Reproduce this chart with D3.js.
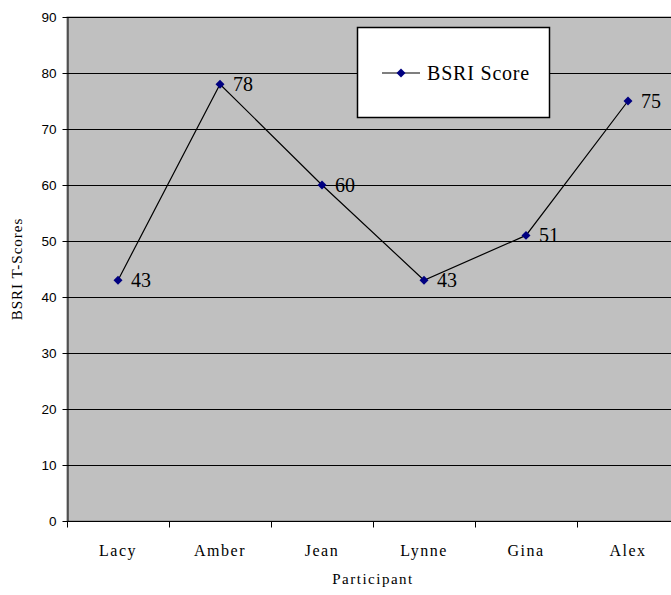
<!DOCTYPE html>
<html><head><meta charset="utf-8">
<script src="https://cdn.jsdelivr.net/npm/d3@7"></script>
<style>body{margin:0;background:#fff}svg{display:block}</style>
</head><body>
<svg id="c" width="671" height="595"></svg>
<script>
const categories = ["Lacy","Amber","Jean","Lynne","Gina","Alex"];
const scores = [43,78,60,43,51,75];
const yTicks = [0,10,20,30,40,50,60,70,80,90];
const seriesName = "BSRI Score";

const svg = d3.select("#c");
const L = 67, R = 679, T = 17, B = 521;
const x = d3.scaleBand().domain(categories).range([L, R]);
const y = d3.scaleLinear().domain([0, 90]).range([B, T]);

svg.append("rect").attr("x", L).attr("y", T).attr("width", R - L).attr("height", B - T)
  .attr("fill", "#c0c0c0").attr("stroke", "#808080").attr("stroke-width", 1);

svg.append("g").selectAll("line").data(yTicks.filter(d => d > 0)).join("line")
  .attr("x1", L).attr("x2", R).attr("y1", d => y(d) + 0.5).attr("y2", d => y(d) + 0.5)
  .attr("stroke", "#000").attr("stroke-width", 1);

const ya = svg.append("g").attr("transform", `translate(${L + 0.5},0)`)
  .call(d3.axisLeft(y).tickValues(yTicks).tickSize(5).tickPadding(6).tickSizeOuter(0));
ya.select(".domain").attr("stroke", "#000");
ya.selectAll(".tick line").attr("stroke", "#000");
ya.selectAll("text").attr("font-family", "Liberation Sans, Arial, sans-serif").attr("font-size", 13.5).attr("fill", "#000");
ya.selectAll(".tick").attr("transform", d => `translate(0,${y(d) + 0.5})`);

const xa = svg.append("g").attr("transform", `translate(0,${B + 0.5})`);
xa.append("line").attr("x1", L).attr("x2", R).attr("stroke", "#000");
xa.selectAll(".tk").data(categories).join("line").attr("class", "tk")
  .attr("x1", d => x(d) + 0.5).attr("x2", d => x(d) + 0.5).attr("y1", 0).attr("y2", 6).attr("stroke", "#000");
xa.selectAll(".lb").data(categories).join("text").attr("class", "lb")
  .attr("x", d => x(d) + x.bandwidth() / 2).attr("y", 34)
  .attr("text-anchor", "middle").attr("font-family", "Liberation Serif, Times New Roman, serif")
  .attr("font-size", 16).attr("letter-spacing", 1.5).text(d => d);

svg.append("text").attr("x", (L + R) / 2).attr("y", 584).attr("text-anchor", "middle")
  .attr("font-family", "Liberation Serif, serif").attr("font-size", 15).attr("letter-spacing", 1.5).text("Participant");
svg.append("text").attr("transform", `translate(22,${(T + B) / 2}) rotate(-90)`).attr("text-anchor", "middle")
  .attr("font-family", "Liberation Serif, serif").attr("font-size", 15).attr("letter-spacing", 1).text("BSRI T-Scores");

const data = categories.map((c, i) => ({c, v: scores[i]}));
const line = d3.line().x(d => x(d.c) + x.bandwidth() / 2).y(d => y(d.v));
svg.append("path").datum(data).attr("d", line).attr("fill", "none").attr("stroke", "#000").attr("stroke-width", 1.2);

const diamond = d3.symbol().type(d3.symbolSquare).size(40);
svg.append("g").selectAll("path").data(data).join("path")
  .attr("d", diamond).attr("fill", "#000080")
  .attr("transform", d => `translate(${x(d.c) + x.bandwidth() / 2},${y(d.v)}) rotate(45)`);

svg.append("g").selectAll("text").data(data).join("text")
  .attr("x", d => x(d.c) + x.bandwidth() / 2 + 13).attr("y", d => y(d.v) + 7)
  .attr("font-family", "Liberation Serif, serif").attr("font-size", 20).text(d => d.v);

// legend
const lg = svg.append("g");
lg.append("rect").attr("x", 357.5).attr("y", 27.5).attr("width", 192).attr("height", 90)
  .attr("fill", "#fff").attr("stroke", "#000").attr("stroke-width", 1.5);
lg.append("line").attr("x1", 382).attr("x2", 420).attr("y1", 73).attr("y2", 73).attr("stroke", "#000").attr("stroke-width", 1.2);
lg.append("path").attr("d", diamond).attr("fill", "#000080").attr("transform", "translate(401,73) rotate(45)");
lg.append("text").attr("x", 427).attr("y", 80).attr("font-family", "Liberation Serif, serif")
  .attr("font-size", 20).attr("letter-spacing", 0.8).text(seriesName);
</script>
</body></html>
